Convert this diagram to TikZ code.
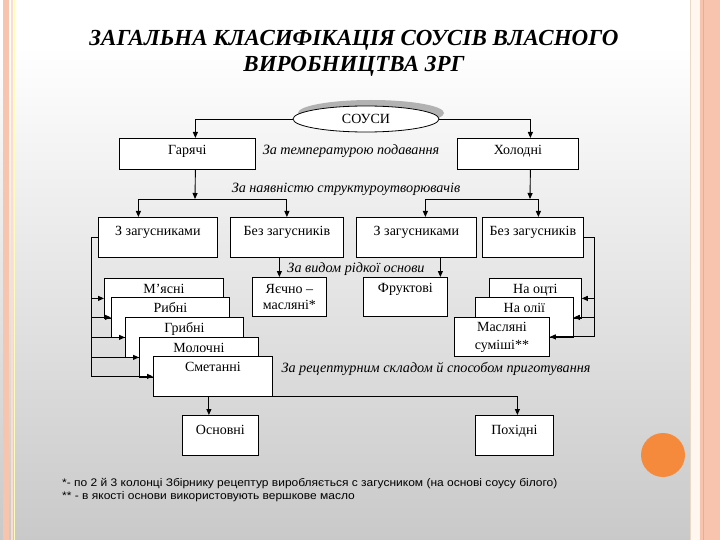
\documentclass[tikz,border=0pt]{standalone}
\usepackage{fontspec}
\setmainfont{Liberation Serif}
\newfontfamily\arialf[FakeStretch=1.09]{Liberation Sans}
\usetikzlibrary{arrows.meta,shapes.geometric}
\definecolor{salmon}{HTML}{F8C4AE}
\definecolor{salmondk}{HTML}{F2A98C}
\definecolor{orng}{HTML}{F58A3C}
\definecolor{bgbot}{HTML}{C9C9C9}
\begin{document}
\begin{tikzpicture}[x=1pt,y=-1pt,
  box/.style={draw, fill=white, line width=0.8pt, inner sep=0pt, anchor=north west,
    align=center, font=\fontsize{14}{16}\selectfont},
  lab/.style={font=\fontsize{14.2}{16}\selectfont\itshape, inner sep=0pt},
  arr/.style={line width=0.9pt, -{Triangle[length=6pt,width=5pt]}},
  ln/.style={line width=0.9pt}]
\useasboundingbox (0,0) rectangle (720,540);
% background
\fill[white] (0,0) rectangle (720,46);
\shade[top color=white, bottom color=bgbot] (0,46) rectangle (720,540);
% left border
\fill[salmon] (3,0) rectangle (9,540);
\draw[salmon!60, line width=1.2pt] (12,0) -- (12,540);
\draw[yellow!25!white, line width=0.8pt] (14.5,0) -- (14.5,540);
% right border
\fill[orange!6] (690,0) rectangle (700,540);
\draw[brown!30, line width=0.8pt] (690,0) -- (690,540);
\fill[salmon] (700,0) rectangle (720,540);
\draw[salmondk, line width=1pt] (703,0) -- (703,540);
% circle
\fill[orng] (663,455) circle (22);

% title
\node[font=\fontsize{23}{25.5}\selectfont\bfseries\itshape, align=center] (title) at (354,53.5)
  {ЗАГАЛЬНА КЛАСИФІКАЦІЯ СОУСІВ ВЛАСНОГО\\ВИРОБНИЦТВА ЗРГ};

% ellipse
\fill[gray!60] (371,113) ellipse (73 and 13);
\node[ellipse, draw, fill=white, line width=0.8pt, minimum width=146pt, minimum height=26pt,
  inner sep=0pt, font=\fontsize{14}{16}\selectfont] (sous) at (366,119) {СОУСИ};

% row 1
\node[box, minimum width=136pt, minimum height=31pt, text height=16pt, text depth=15pt] (hot) at (119,138) {Гарячі};
\node[box, minimum width=121pt, minimum height=31pt, text height=16pt, text depth=15pt] (cold) at (457,138) {Холодні};
\node[lab] (l1) at (351,151) {За температурою подавання};

% row 2
\node[box, minimum width=119pt, minimum height=40pt, text height=18pt, text depth=22pt] (zz1) at (98,217) {З загусниками};
\node[box, minimum width=113pt, minimum height=40pt, text height=18pt, text depth=22pt] (bz1) at (230,217) {Без загусників};
\node[box, minimum width=120pt, minimum height=40pt, text height=18pt, text depth=22pt] (zz2) at (356,217) {З загусниками};
\node[box, minimum width=101pt, minimum height=40pt, text height=18pt, text depth=22pt] (bz2) at (482,217) {Без загусників};
\node[lab] (l2) at (346,189) {За наявністю структуроутворювачів};

% row 3 middle
\node[box, minimum width=74pt, minimum height=39pt, font=\fontsize{14}{16}\selectfont] (yae) at (252,277) {Яєчно –\\масляні*};
\node[box, minimum width=84pt, minimum height=39pt, text height=15pt, text depth=24pt] (fru) at (363,277) {Фруктові};
\node[lab] (l3) at (356,269) {За видом рідкої основи};

% left stack
\node[box, minimum width=119pt, minimum height=40pt, text height=15pt, text depth=25pt] (m1) at (104,278) {М’ясні};
\node[box, minimum width=118pt, minimum height=40pt, text height=15pt, text depth=25pt] (r1) at (111,297) {Рибні};
\node[box, minimum width=118pt, minimum height=40pt, text height=15pt, text depth=25pt] (g1) at (125,317) {Грибні};
\node[box, minimum width=119pt, minimum height=40pt, text height=15pt, text depth=25pt] (mol) at (139,337) {Молочні};
\node[box, minimum width=119pt, minimum height=40pt, text height=15pt, text depth=25pt] (sm) at (153,356) {Сметанні};

% right stack
\node[box, minimum width=92pt, minimum height=40pt, text height=15pt, text depth=25pt] (ots) at (489,278) {На оцті};
\node[box, minimum width=98pt, minimum height=40pt, text height=15pt, text depth=25pt] (oli) at (475,297) {На олії};
\node[box, minimum width=95pt, minimum height=39pt, font=\fontsize{14}{18}\selectfont] (mas) at (454,317) {Масляні\\суміші**};
\node[lab] (l4) at (436,369) {За рецептурним складом й способом приготування};

% bottom row
\node[box, minimum width=76pt, minimum height=40pt, text height=19pt, text depth=21pt] (osn) at (182,415) {Основні};
\node[box, minimum width=78pt, minimum height=40pt, text height=19pt, text depth=21pt] (poh) at (475,415) {Похідні};

% connectors top
\draw[arr] (sous.west) -| ([xshift=8pt]hot.north);
\draw[arr] (sous.east) -| ([xshift=12.5pt]cold.north);
\coordinate (jl) at (195,199);
\coordinate (jr) at (530,199);
\draw[arr] ([xshift=8pt]hot.south) -- (jl);
\draw[arr] ([xshift=12.5pt]cold.south) -- (jr);
\draw[arr] (jl) -| ([xshift=-19.5pt]zz1.north);
\draw[arr] (jl) -| (bz1.north);
\draw[arr] (jr) -| ([xshift=9pt]zz2.north);
\draw[arr] (jr) -| ([xshift=5.5pt]bz2.north);
% row2 -> row3
\draw[arr] ([xshift=-7.5pt]bz1.south) -- ([xshift=-7.5pt]bz1.south |- yae.north);
\draw[arr] ([xshift=24pt]zz2.south) -- ([xshift=24pt]zz2.south |- fru.north);
% left stack
\draw[ln] (zz1.west) -- ++(-7,0) coordinate (lv) -- (lv |- sm.west);
\foreach \n in {m1,r1,g1,mol,sm} \draw[arr] (lv |- \n.west) -- (\n.west);
% right stack
\draw[ln] (bz2.east) -- ++(11,0) coordinate (rv) -- (rv |- mas.east);
\foreach \n in {ots,oli,mas} \draw[arr] (rv |- \n.east) -- (\n.east);
% bottom
\draw[arr] (sm.south east) -| ([xshift=3pt]poh.north);
\draw[arr] ([xshift=-4pt]sm.south) -- ([xshift=-4pt]sm.south |- osn.north);

% footnotes
\node[anchor=west, align=left, inner sep=0pt, font=\arialf\fontsize{11}{13}\selectfont] (fn) at (62,490)
  {*- по 2 й 3 колонці Збірнику рецептур виробляється с загусником (на основі соусу білого)\\
   ** - в якості основи використовують вершкове масло};
\end{tikzpicture}
\end{document}
